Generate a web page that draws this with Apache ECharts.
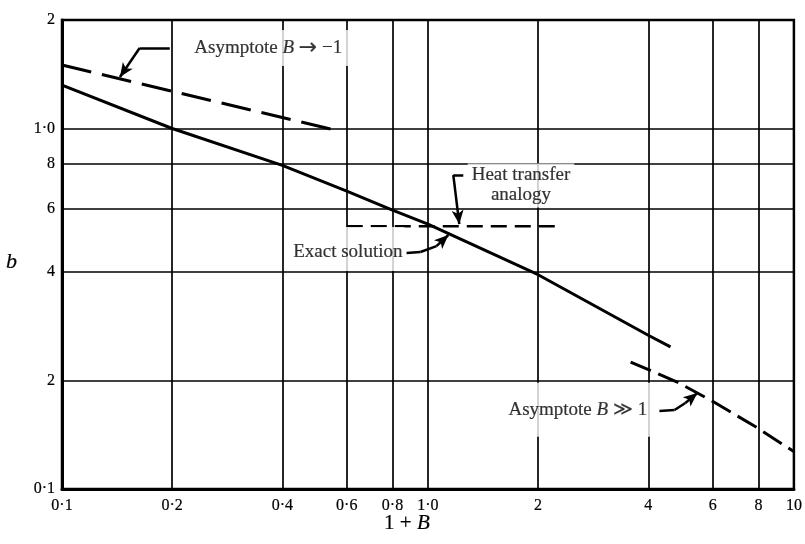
<!DOCTYPE html>
<html>
<head>
<meta charset="utf-8">
<script src="https://cdn.jsdelivr.net/npm/echarts@6/dist/echarts.min.js"></script>
<style>html,body{margin:0;background:#fff}#chart{width:805px;height:544px}</style>
</head>
<body>
<div id="chart"></div>
<script>
// tick values and their printed labels
const xTicks = [0.1, 0.2, 0.4, 0.6, 0.8, 1, 2, 4, 6, 8, 10]
const xTickLabels = ['0·1', '0·2', '0·4', '0·6', '0·8', '1·0', '2', '4', '6', '8', '10']
const yTicks = [0.1, 0.2, 0.4, 0.6, 0.8, 1, 2]
const yTickLabels = ['0·1', '2', '4', '6', '8', '1·0', '2']

// curves (x = 1+B, y = b)
const exactX = [0.1, 0.2, 0.4, 0.6, 0.8, 1.0, 2, 4, 4.6]
const exactB = [1.32, 1.0, 0.79, 0.67, 0.594, 0.543, 0.393, 0.267, 0.248]
const heatX = [0.6, 2.31]
const heatB = [0.536, 0.536]
const asymNegX = [0.1, 0.563]
const asymNegB = [1.5, 0.988]
const asymBigX = [3.58, 4.8, 6.06, 7.93, 10]
const asymBigB = [0.225, 0.198, 0.174, 0.148, 0.127]

// annotation text, anchored in data space
const notes = [
  { text: 'Asymptote {i|B} {a|→} −1', at: [0.366, 1.672], pad: [8, 8, 8, 8] },
  { text: 'Heat transfer\nanalogy', at: [1.796, 0.695], pad: [2, 4, 2, 4] },
  { text: 'Exact solution', at: [0.604, 0.463], pad: [15, 2, 9, 2] },
  { text: 'Asymptote {i|B} ≫ 1', at: [2.567, 0.166], pad: [17, 6, 17, 6] }
]
const leaders = [
  [[0.197, 1.672], [0.163, 1.672], [0.144, 1.389]],
  [[0.874, 0.4515], [0.954, 0.4544], [1.055, 0.472], [1.137, 0.5065]],
  [[1.249, 0.743], [1.173, 0.743], [1.218, 0.543]],
  [[4.29, 0.1646], [4.72, 0.1656], [5.05, 0.1732], [5.45, 0.1846]]
]

const zip = (xs, ys) => xs.map((x, i) => [x, ys[i]])
const pick = (ticks, labels) => v => {
  let k = 0
  ticks.forEach((t, i) => { if (Math.abs(Math.log(t / v)) < Math.abs(Math.log(ticks[k] / v))) k = i })
  return labels[k]
}
const FONT = 'Liberation Serif'
const ink = { color: '#000', textBorderColor: '#000', textBorderWidth: 0.2 }

const leaderSegs = []
leaders.forEach(path => {
  for (let i = 0; i < path.length - 1; i++) {
    const last = i === path.length - 2
    leaderSegs.push([
      { coord: path[i], symbol: 'none' },
      { coord: path[i + 1], symbol: last ? 'arrow' : 'none', symbolSize: last ? [9, 14] : 0 }
    ])
  }
})

const chart = echarts.init(document.getElementById('chart'))
chart.setOption({
  animation: false,
  backgroundColor: '#fff',
  textStyle: { fontFamily: FONT, color: '#000' },
  grid: { left: 62, right: 8, top: 20, bottom: 55, show: true, borderColor: '#000', borderWidth: 2.5 },
  xAxis: {
    type: 'log', logBase: 10, min: 0.1, max: 10,
    name: '1 + {i|B}', nameLocation: 'middle', nameGap: 24, nameMoveOverlap: false,
    nameTextStyle: { fontFamily: FONT, fontSize: 21, ...ink, padding: [0, 42, 0, 0],
      rich: { i: { fontFamily: FONT, fontSize: 21, fontStyle: 'italic', ...ink } } },
    axisLine: { onZero: false, lineStyle: { color: '#000', width: 3 } },
    axisTick: { show: false, customValues: xTicks },
    axisLabel: { customValues: xTicks, formatter: pick(xTicks, xTickLabels), margin: 9,
      fontFamily: FONT, fontSize: 16, ...ink },
    splitLine: { show: true, lineStyle: { color: '#000', width: 1.7 } }
  },
  yAxis: {
    type: 'log', logBase: 10, min: 0.1, max: 2,
    name: 'b', nameLocation: 'middle', nameRotate: 0, nameGap: 45, nameMoveOverlap: false,
    nameTextStyle: { fontFamily: FONT, fontSize: 22, fontStyle: 'italic', ...ink, verticalAlign: 'top', lineHeight: 16 },
    axisLine: { onZero: false, lineStyle: { color: '#000', width: 3 } },
    axisTick: { show: false, customValues: yTicks },
    axisLabel: { customValues: yTicks, formatter: pick(yTicks, yTickLabels), margin: 7,
      fontFamily: FONT, fontSize: 16, ...ink },
    splitLine: { show: true, lineStyle: { color: '#000', width: 1.7 } }
  },
  series: [
    { name: 'Exact solution', type: 'line', data: zip(exactX, exactB), symbol: 'none',
      lineStyle: { color: '#000', width: 3 } },
    { name: 'Heat transfer analogy', type: 'line', data: zip(heatX, heatB), symbol: 'none',
      lineStyle: { color: '#000', width: 2.5, type: [16, 8] } },
    { name: 'Asymptote B -> -1', type: 'line', data: zip(asymNegX, asymNegB), symbol: 'none',
      lineStyle: { color: '#000', width: 3, type: [30, 11] } },
    { name: 'Asymptote B >> 1', type: 'line', data: zip(asymBigX, asymBigB), symbol: 'none',
      lineStyle: { color: '#000', width: 3, type: [22, 8] },
      markLine: { silent: true, animation: false, symbol: 'none', label: { show: false },
        lineStyle: { color: '#000', width: 2.5, type: 'solid' }, data: leaderSegs } },
    { name: 'notes', type: 'scatter', symbolSize: 0, silent: true, z: 3,
      data: notes.map(n => ({
        value: n.at,
        label: {
          show: true, position: 'inside', formatter: n.text, padding: n.pad,
          backgroundColor: '#fff', fontFamily: FONT, fontSize: 19, lineHeight: 20, ...ink,
          rich: {
            i: { fontFamily: FONT, fontSize: 19, fontStyle: 'italic', lineHeight: 20, ...ink },
            a: { fontFamily: 'DejaVu Sans', fontSize: 22, lineHeight: 20, ...ink }
          }
        }
      })) }
  ]
})
</script>
</body>
</html>
